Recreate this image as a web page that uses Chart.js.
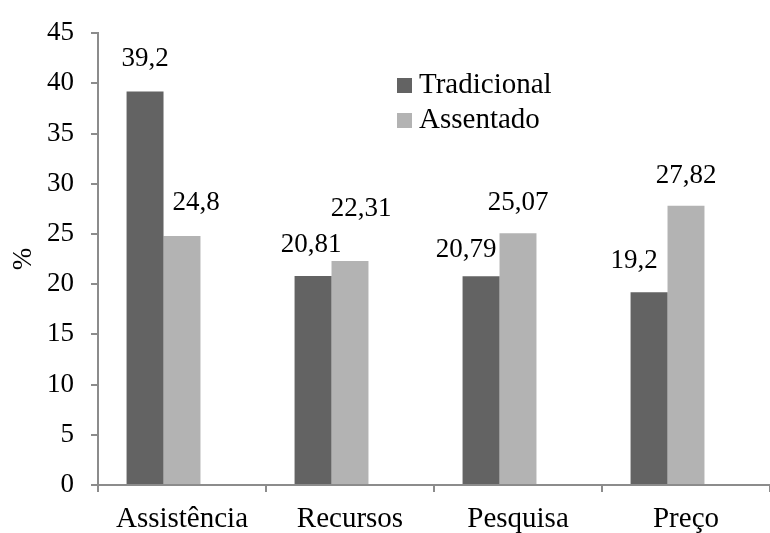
<!DOCTYPE html>
<html>
<head>
<meta charset="utf-8">
<script src="https://cdn.jsdelivr.net/npm/chart.js@4/dist/chart.umd.min.js"></script>
<style>
  html, body { margin: 0; padding: 0; background: #fff; }
  #wrap { width: 770px; height: 533px; position: relative; }
</style>
</head>
<body>
<div id="wrap"><canvas id="myChart"></canvas></div>
<script>
const categories = ['Assistência', 'Recursos', 'Pesquisa', 'Preço'];
const tradicional = [39.2, 20.81, 20.79, 19.2];
const assentado = [24.8, 22.31, 25.07, 27.82];
// empty third slot in each group, keeps the pair off-centre like the original sheet
const spacer = [null, null, null, null];
const yTicks = [0, 5, 10, 15, 20, 25, 30, 35, 40, 45];

const FONT = "'Liberation Serif', 'Times New Roman', serif";
const AXIS_GREY = '#8c8c8c';

// nudges for the value labels that were moved by hand [dx, dy]
const labelNudge = [
  [[0, -2], [-2, 0], [-15, 5], [-15, 0]],
  [[14, -2], [11, -21], [0, 1], [0, 1]]
];

const valueLabels = {
  id: 'valueLabels',
  afterDatasetsDraw(chart) {
    const ctx = chart.ctx;
    ctx.save();
    ctx.font = '27px ' + FONT;
    ctx.fillStyle = '#000';
    ctx.textAlign = 'center';
    ctx.textBaseline = 'middle';
    [0, 1].forEach(di => {
      const meta = chart.getDatasetMeta(di);
      meta.data.forEach((bar, i) => {
        const v = chart.data.datasets[di].data[i];
        const [dx, dy] = labelNudge[di][i];
        ctx.fillText(String(v).replace('.', ','), bar.x + dx, bar.y - 31 + dy);
      });
    });
    ctx.restore();
  }
};

const boxLegend = {
  id: 'boxLegend',
  afterDraw(chart) {
    const ctx = chart.ctx;
    ctx.save();
    ctx.font = '29px ' + FONT;
    ctx.textBaseline = 'middle';
    ctx.textAlign = 'left';
    [0, 1].forEach(di => {
      const ds = chart.data.datasets[di];
      const y = 85 + di * 35;
      ctx.fillStyle = ds.backgroundColor;
      ctx.fillRect(397, y - 7, 15, 15);
      ctx.fillStyle = '#000';
      ctx.fillText(ds.label, 419, y);
    });
    ctx.restore();
  }
};

const ctx = document.getElementById('myChart').getContext('2d');

const chart = new Chart(ctx, {
  type: 'bar',
  data: {
    labels: categories,
    datasets: [
      { label: 'Tradicional', data: tradicional, backgroundColor: '#636363' },
      { label: 'Assentado', data: assentado, backgroundColor: '#b3b3b3' },
      { label: '', data: spacer, backgroundColor: 'rgba(0,0,0,0)' }
    ]
  },
  options: {
    responsive: true,
    maintainAspectRatio: false,
    animation: false,
    categoryPercentage: 0.66,
    barPercentage: 1.0,
    layout: { padding: { top: 24, right: 0, left: 0, bottom: 0 } },
    plugins: {
      legend: { display: false },
      tooltip: { enabled: false }
    },
    scales: {
      x: {
        grid: {
          offset: true,
          drawOnChartArea: false,
          drawTicks: true,
          tickLength: 7,
          color: AXIS_GREY,
          lineWidth: 2
        },
        border: { display: true, color: AXIS_GREY, width: 2 },
        ticks: {
          color: '#000',
          font: { family: FONT, size: 29 },
          padding: 10,
          maxRotation: 0
        },
        afterFit(scale) { scale.height = 48; }
      },
      y: {
        min: 0,
        max: 45,
        afterBuildTicks(scale) {
          scale.ticks = yTicks.map(v => ({ value: v }));
        },
        grid: {
          drawOnChartArea: false,
          drawTicks: true,
          tickLength: 7,
          color: AXIS_GREY,
          lineWidth: 2
        },
        border: { display: true, color: AXIS_GREY, width: 2 },
        ticks: {
          color: '#000',
          font: { family: FONT, size: 27 },
          padding: 17
        },
        title: {
          display: true,
          text: '%',
          color: '#000',
          font: { family: FONT, size: 27 },
          padding: { top: 8, bottom: 0 }
        },
        afterFit(scale) { scale.width = 98; }
      }
    }
  },
  plugins: [valueLabels, boxLegend]
});
</script>
</body>
</html>
